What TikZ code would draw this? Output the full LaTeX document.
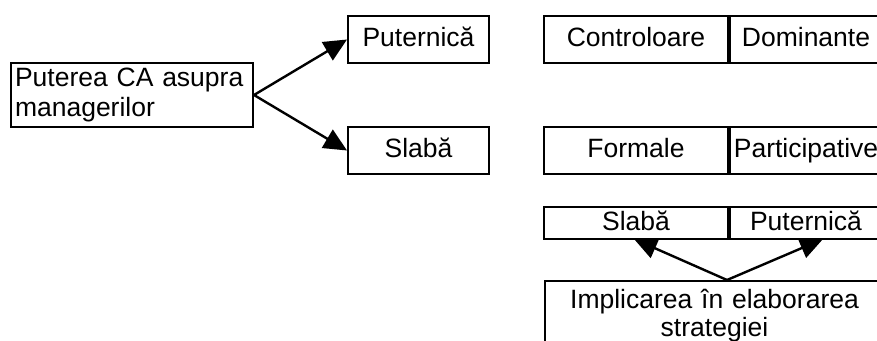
\documentclass[tikz,border=0pt]{standalone}
\usepackage{fontspec}
\setmainfont{Liberation Sans}
\usetikzlibrary{arrows.meta}
\begin{document}
\begin{tikzpicture}[x=1pt,y=-1pt,
  box/.style={draw, line width=2pt, inner sep=0pt, font=\fontsize{26.5}{30}\selectfont},
  cell/.style={box, text height=19pt, text depth=5pt},
  arr/.style={line width=2.4pt, -{Triangle[length=23pt,width=21pt]}}]
\useasboundingbox (0,0) rectangle (877,340);
\clip (0,0) rectangle (877,340);
% left box
\node[box, anchor=north west, minimum width=242, minimum height=64,
      text width=234, align=left, inner xsep=4pt] (src) at (10,62)
  {Puterea CA asupra\\managerilor};
\node[cell, anchor=north west, minimum width=141, minimum height=47] (put) at (347,15) {Puternică};
\node[cell, anchor=north west, minimum width=141, minimum height=47] (sla) at (347,126) {Slabă};
\draw[arr] (src.east) -- (put.west);
\draw[arr] (src.east) -- (sla.west);
% right rows
\node[cell, anchor=north west, minimum width=184, minimum height=47] (ctl) at (543,15) {Controloare};
\node[cell, anchor=north west, minimum width=152, minimum height=47] (dom) at (ctl.north east) {Dominante};
\node[cell, anchor=north west, minimum width=184, minimum height=47] (frm) at (543,126) {Formale};
\node[cell, anchor=north west, minimum width=152, minimum height=47] (par) at (frm.north east) {Participative};
\node[cell, anchor=north west, minimum width=184, minimum height=32] (sl2) at (543,206) {Slabă};
\node[cell, anchor=north west, minimum width=152, minimum height=32] (pu2) at (sl2.north east) {Puternică};
% bottom box
\node[box, anchor=north west, minimum width=339, text width=339, align=center,
      inner ysep=8pt, font=\fontsize{26.5}{28}\selectfont] (imp) at (544,280)
  {Implicarea în elaborarea\\strategiei};
\coordinate (fork) at (727,280);
\draw[arr] (fork) -- ([xshift=-2pt,yshift=1pt]sl2.south);
\draw[arr] (fork) -- ([xshift=17pt,yshift=1pt]pu2.south);
\end{tikzpicture}
\end{document}
